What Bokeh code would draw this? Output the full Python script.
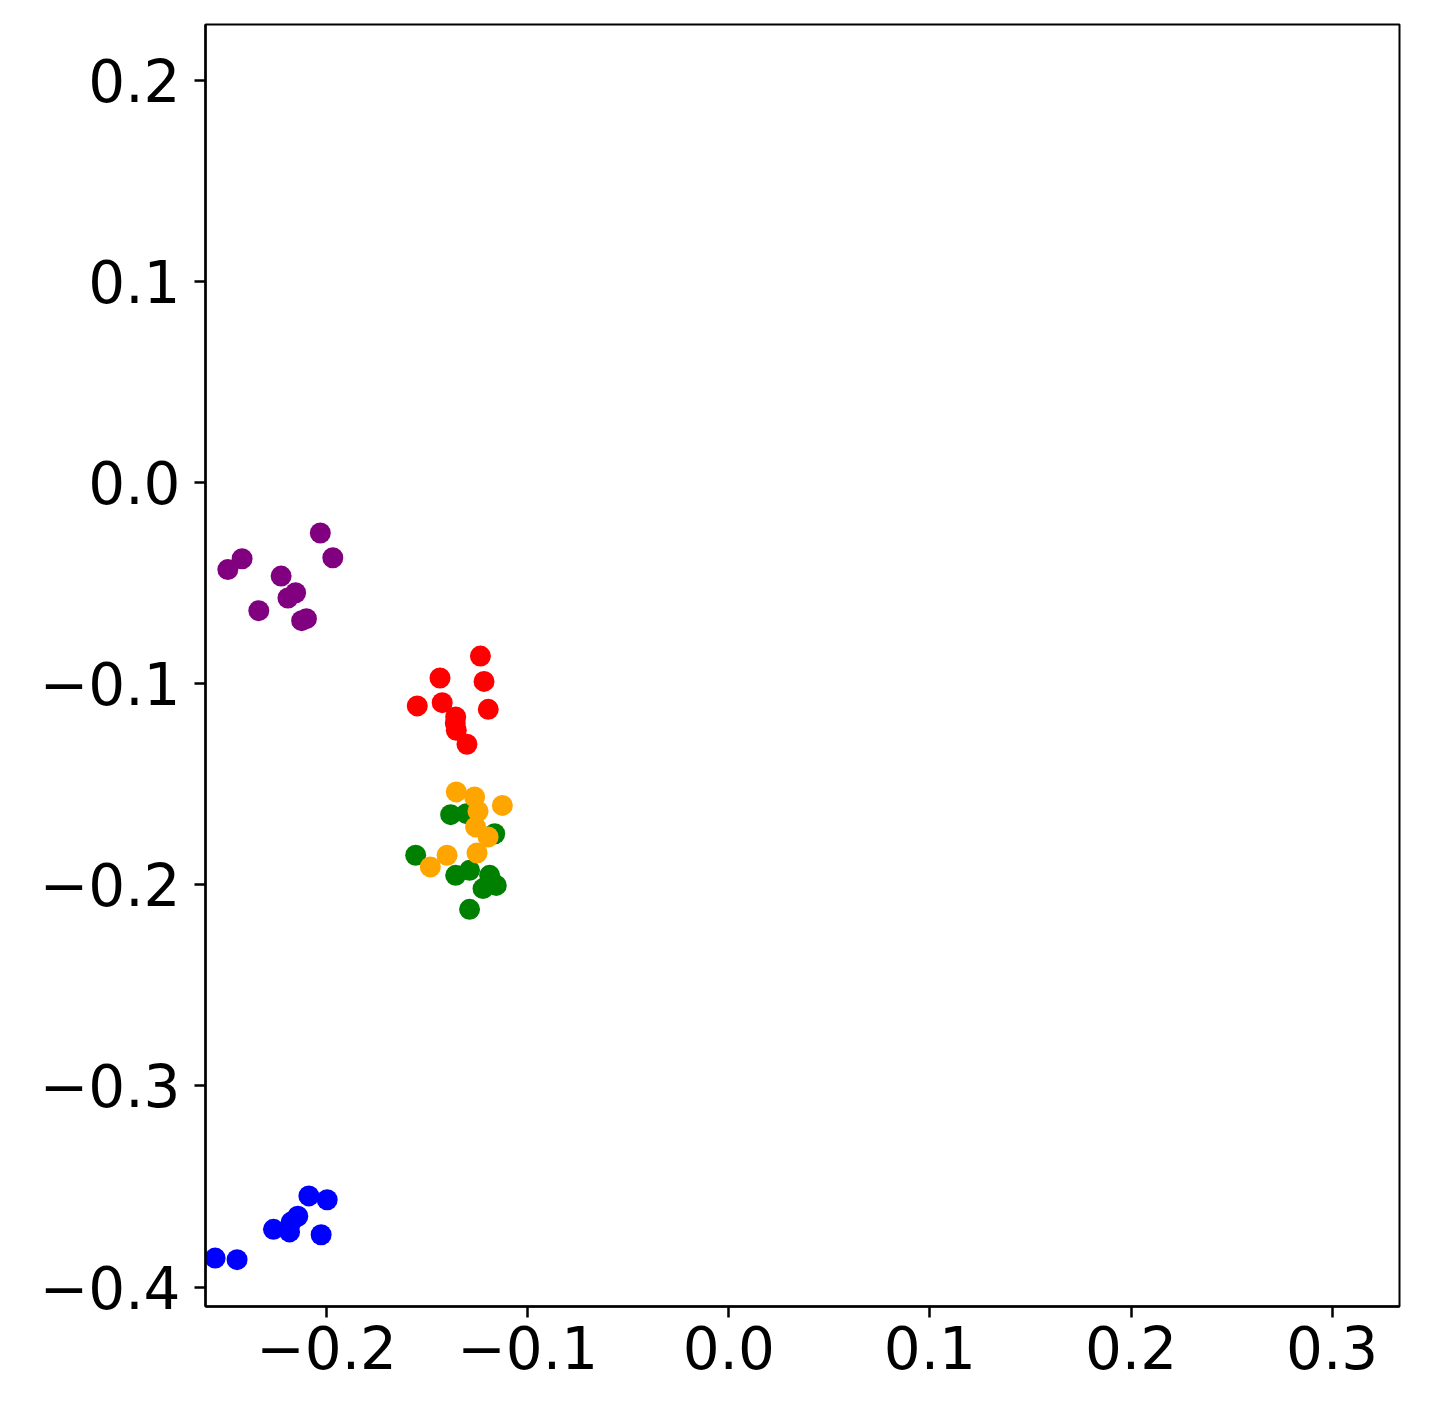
from bokeh.plotting import figure
from bokeh.models import Range1d, FixedTicker
from bokeh.embed import file_html
from bokeh.resources import INLINE

purple_x = [-0.2031, -0.1969, -0.2420, -0.2491, -0.2226, -0.2154, -0.2192, -0.2337, -0.2124, -0.2100]
purple_y = [-0.0249, -0.0372, -0.0377, -0.0431, -0.0463, -0.0546, -0.0572, -0.0635, -0.0685, -0.0675]

red_x = [-0.1235, -0.1436, -0.1217, -0.1549, -0.1425, -0.1196, -0.1358, -0.1355, -0.1302, -0.1360]
red_y = [-0.0861, -0.0970, -0.0987, -0.1109, -0.1093, -0.1126, -0.1164, -0.1230, -0.1300, -0.1195]

green_x = [-0.1383, -0.1305, -0.1164, -0.1557, -0.1358, -0.1289, -0.1189, -0.1156, -0.1222, -0.1289]
green_y = [-0.1650, -0.1645, -0.1745, -0.1852, -0.1952, -0.1927, -0.1952, -0.2002, -0.2018, -0.2121]

orange_x = [-0.1355, -0.1264, -0.1126, -0.1247, -0.1259, -0.1197, -0.1401, -0.1252, -0.1484]
orange_y = [-0.1537, -0.1562, -0.1604, -0.1633, -0.1711, -0.1761, -0.1852, -0.1841, -0.1910]

blue_x = [-0.2088, -0.1997, -0.2143, -0.2264, -0.2184, -0.2176, -0.2027, -0.2554, -0.2445]
blue_y = [-0.3547, -0.3566, -0.3648, -0.3713, -0.3726, -0.3677, -0.3740, -0.3856, -0.3864]

x_ticks = [-0.2, -0.1, 0.0, 0.1, 0.2, 0.3]
y_ticks = [-0.4, -0.3, -0.2, -0.1, 0.0, 0.1, 0.2]

p = figure(width=1427, height=1404, output_backend="svg", toolbar_location=None,
           x_range=Range1d(-0.2602, 0.3335), y_range=Range1d(-0.4097, 0.2281),
           min_border_left=205, min_border_right=28, min_border_top=24, min_border_bottom=98)

groups = [(purple_x, purple_y, "#800080"), (red_x, red_y, "#ff0000"),
          (green_x, green_y, "#008000"), (orange_x, orange_y, "#ffa500"),
          (blue_x, blue_y, "#0000ff")]
for xs, ys, c in groups:
    p.scatter(xs, ys, size=21, fill_color=c, line_color=None)

p.xgrid.visible = False
p.ygrid.visible = False
p.outline_line_color = "black"
p.outline_line_width = 2
p.outline_line_alpha = 1

p.xaxis.ticker = FixedTicker(ticks=x_ticks)
p.yaxis.ticker = FixedTicker(ticks=y_ticks)
for ax in (p.xaxis[0], p.yaxis[0]):
    ax.major_label_text_font = "DejaVu Sans"
    ax.major_label_text_font_size = "58px"
    ax.major_label_text_color = "black"
    ax.axis_line_width = 2.5
    ax.axis_line_color = "black"
    ax.major_tick_line_width = 2.5
    ax.major_tick_line_color = "black"
    ax.major_tick_in = 0
    ax.major_tick_out = 11
    ax.minor_tick_line_color = None
p.xaxis.major_label_standoff = 8
p.yaxis.major_label_standoff = 14
p.xaxis.major_label_overrides = {t: ("\u2212" if t < 0 else "") + "%.1f" % abs(t) for t in x_ticks}
p.yaxis.major_label_overrides = {t: ("\u2212" if t < 0 else "") + "%.1f" % abs(t) for t in y_ticks}

open("out.html", "w").write(file_html(p, INLINE))
